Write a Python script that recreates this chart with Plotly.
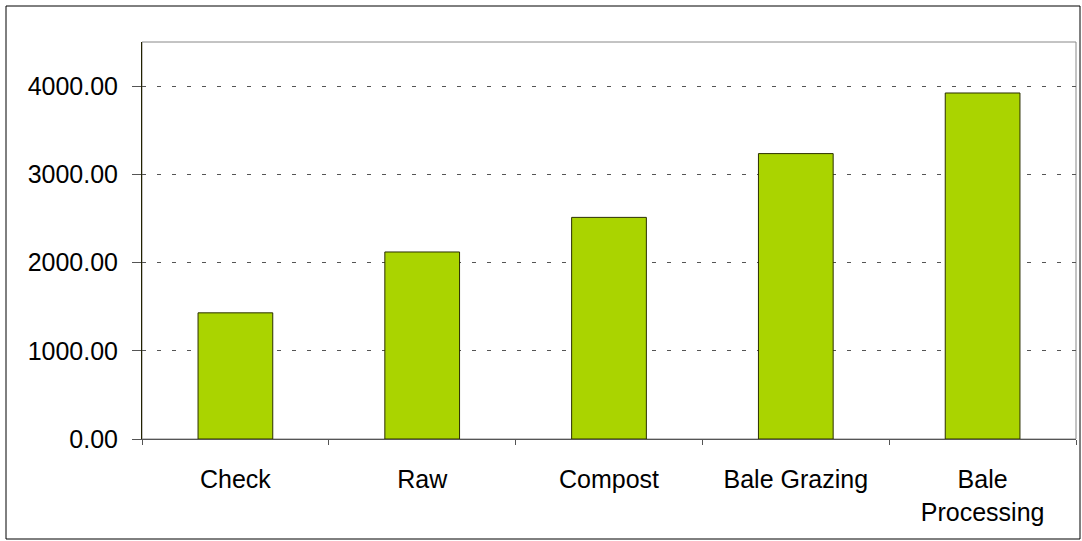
import plotly.graph_objects as go

categories = ["Check", "Raw", "Compost", "Bale Grazing", "Bale<br>Processing"]
values = [1430, 2120, 2512, 3235, 3922]
y_ticks = [0, 1000, 2000, 3000, 4000]
y_tick_labels = ["0.00", "1000.00", "2000.00", "3000.00", "4000.00"]

fig = go.Figure()
fig.add_trace(go.Bar(
    x=categories, y=values, width=0.4,
    marker=dict(color="#AAD400", line=dict(color="#2a2f00", width=1)),
))

font = dict(family="Liberation Sans, Arial, sans-serif", size=25, color="#000000")
fig.update_layout(
    width=1082, height=541,
    margin=dict(l=142, r=6, t=42, b=102),
    paper_bgcolor="white", plot_bgcolor="white",
    showlegend=False, bargap=0.6,
    font=font,
    xaxis=dict(
        showline=True, linecolor="#555555", linewidth=1,
        ticks="outside", ticklen=5, tickcolor="#555555",
        tickson="boundaries", showgrid=False,
        tickfont=font, ticklabelstandoff=18,
    ),
    yaxis=dict(
        range=[0, 4500], tickvals=y_ticks, ticktext=y_tick_labels,
        showline=True, linecolor="#222200", linewidth=1,
        ticks="outside", ticklen=9, tickcolor="#555555",
        showgrid=True, gridcolor="#555555", gridwidth=1, griddash="4px,11px",
        zeroline=False, tickfont=font, ticklabelstandoff=9,
    ),
    shapes=[
        dict(type="rect", xref="paper", yref="paper", x0=0, x1=1, y0=0, y1=1,
             line=dict(color="#888888", width=1), layer="below"),
        dict(type="rect", xref="paper", yref="paper",
             x0=-136/934, x1=1 + 4/934, y0=-100/397, y1=1 + 36/397,
             line=dict(color="#000000", width=1)),
    ],
)
fig.write_html("out.html")
